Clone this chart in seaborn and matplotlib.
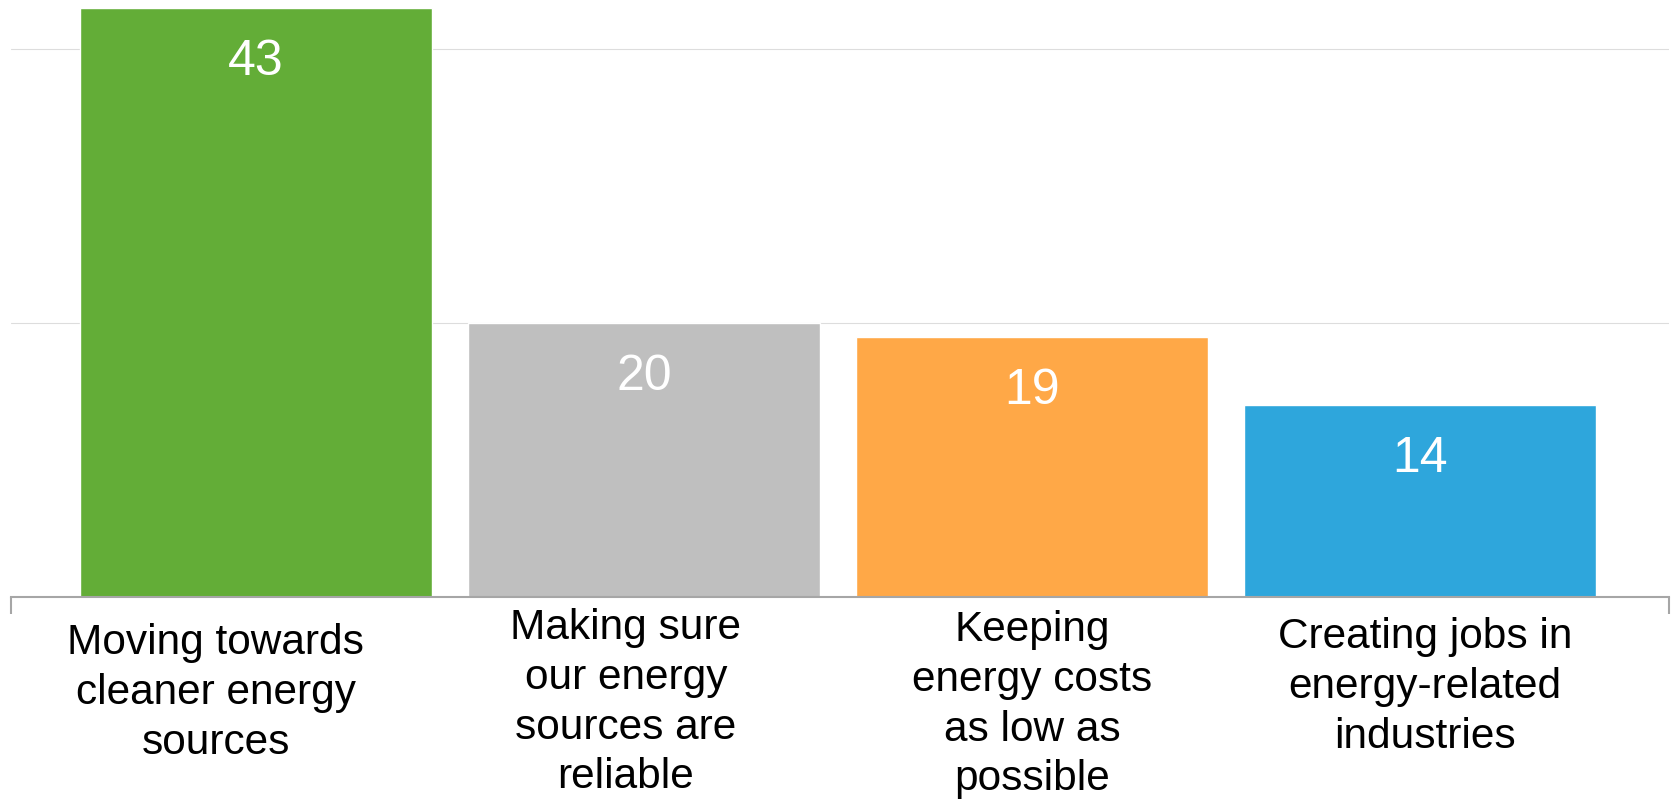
import matplotlib
matplotlib.use('Agg')
import matplotlib.pyplot as plt
import matplotlib.transforms as mtransforms
import seaborn as sns

# Chart data
categories = [
    'Moving towards\ncleaner energy\nsources',
    'Making sure\nour energy\nsources are\nreliable',
    'Keeping\nenergy costs\nas low as\npossible',
    'Creating jobs in\nenergy-related\nindustries',
]
values = [43, 20, 19, 14]
bar_colors = ['#63AD37', '#BFBFBF', '#FFA847', '#2EA6DC']

sns.set_style('white')
plt.rcParams['font.family'] = ['Liberation Sans', 'DejaVu Sans']

fig = plt.figure(figsize=(16.72, 8.02), dpi=100)
ax = fig.add_axes([0.0066, 0.2556, 0.9916, 0.7444])

sns.barplot(x=categories, y=values, hue=categories, palette=bar_colors,
            width=0.907, legend=False, saturation=1, ax=ax)

x_lo, x_hi = -0.631, 3.642
ax.set_xlim(x_lo, x_hi)
ax.set_ylim(0, 43.6)
ax.set_yticks([0, 20, 40])
ax.yaxis.grid(True, color='#DDDDDD', linewidth=0.8)
ax.xaxis.grid(False)
ax.set_axisbelow(True)
ax.tick_params(axis='y', length=0, labelleft=False)
ax.set_xlabel('')
ax.set_ylabel('')

for side in ['left', 'right', 'top']:
    ax.spines[side].set_visible(False)
ax.spines['bottom'].set_color('#A6A6A6')
ax.spines['bottom'].set_linewidth(1.5)

# end ticks on the category axis
ax.set_xticks([x_lo, x_hi], minor=True)
ax.tick_params(axis='x', which='minor', bottom=True, length=12, width=1.5,
               color='#A6A6A6', direction='out')
ax.tick_params(axis='x', which='major', length=0, pad=19)
ax.set_xticks(range(len(categories)))
ax.set_xticklabels(categories, fontsize=30.5, linespacing=1.31,
                   color='black')

# nudge the labels a little like the original
label_shifts = [(-40, 0), (-18, 15), (0, 13), (5, 6)]
for lab, (dx, dy) in zip(ax.get_xticklabels(), label_shifts):
    lab.set_transform(lab.get_transform() + mtransforms.ScaledTranslation(
        dx / 100, dy / 100, fig.dpi_scale_trans))

# value labels inside the bars
for bar, v in zip(ax.patches, values):
    ax.annotate(str(v), (bar.get_x() + bar.get_width() / 2, bar.get_height()),
                xytext=(0, -48), textcoords='offset points',
                ha='center', va='baseline', color='white', fontsize=36)

fig.savefig('out.png', dpi=100)
